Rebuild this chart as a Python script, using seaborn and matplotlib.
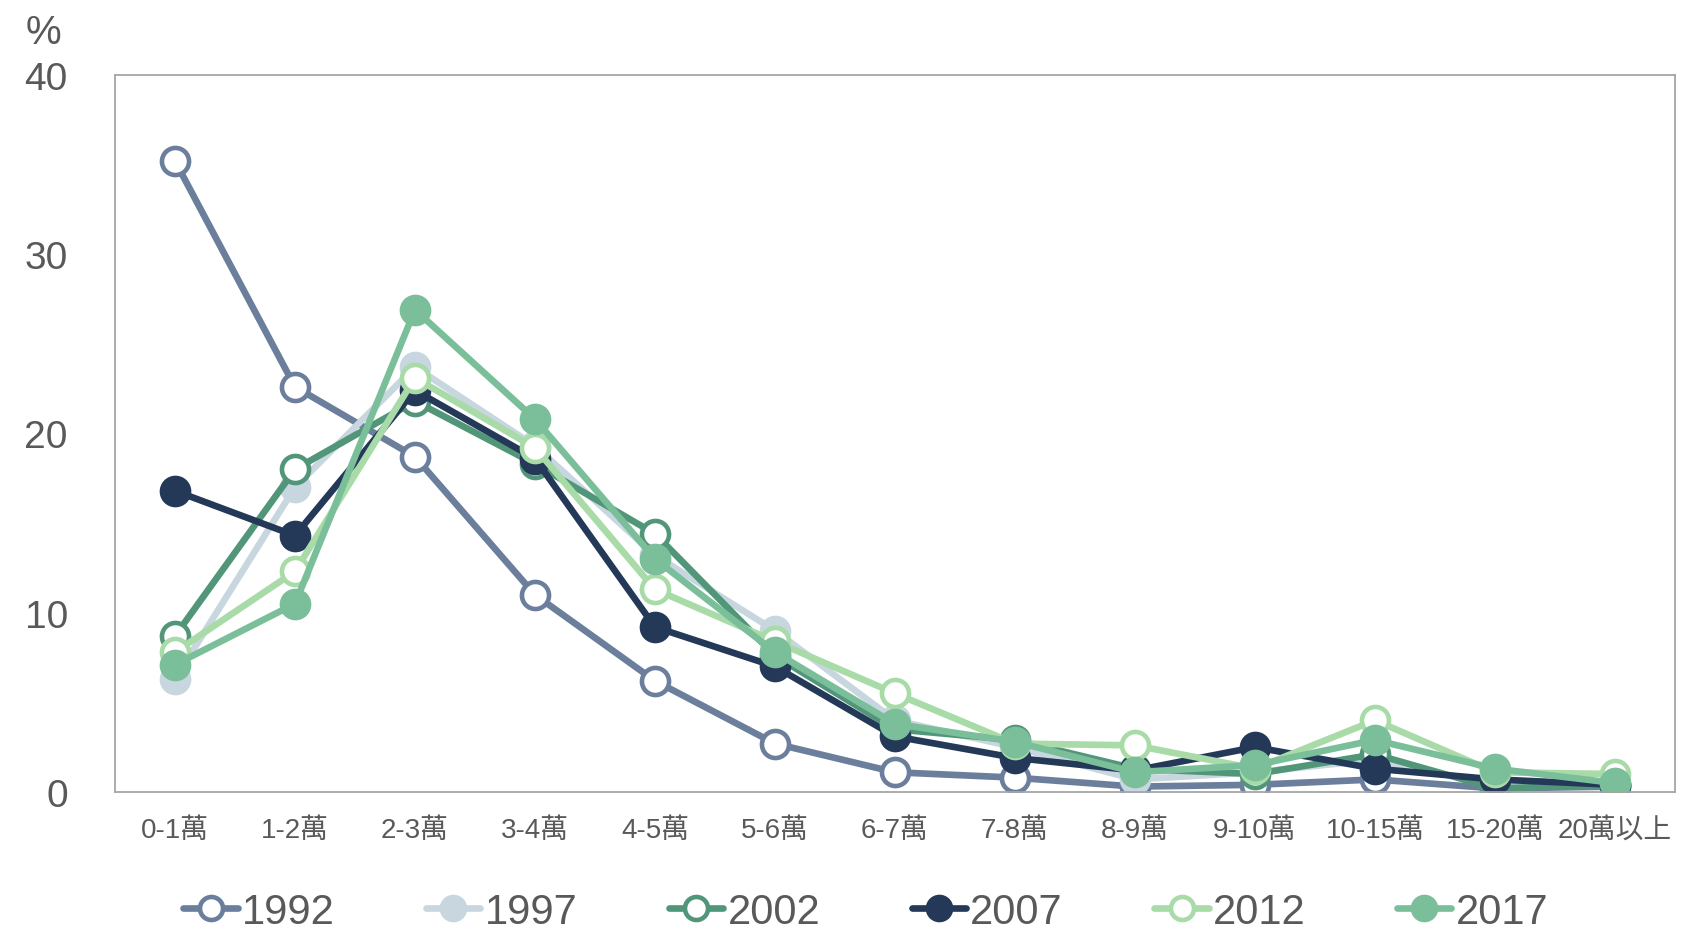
import matplotlib
matplotlib.use("Agg")
import matplotlib.pyplot as plt
import seaborn as sns
import numpy as np
import pandas as pd

categories = ["0-1萬", "1-2萬", "2-3萬", "3-4萬", "4-5萬", "5-6萬", "6-7萬",
              "7-8萬", "8-9萬", "9-10萬", "10-15萬", "15-20萬", "20萬以上"]
years = ["1992", "1997", "2002", "2007", "2012", "2017"]

v1992 = [35.2, 22.6, 18.7, 11.0, 6.2, 2.7, 1.1, 0.8, 0.3, 0.4, 0.7, 0.2, 0.3]
v1997 = [6.3, 17.0, 23.7, 19.3, 13.2, 9.0, 4.0, 2.5, 0.7, 1.1, 1.8, 0.4, 0.4]
v2002 = [8.7, 18.0, 21.8, 18.3, 14.4, 7.6, 3.5, 2.9, 1.3, 1.0, 2.1, 0.2, 0.4]
v2007 = [16.8, 14.3, 22.4, 18.6, 9.2, 7.0, 3.1, 1.9, 1.2, 2.5, 1.3, 0.7, 0.4]
v2012 = [7.8, 12.3, 23.1, 19.2, 11.3, 8.4, 5.5, 2.7, 2.6, 1.3, 4.0, 1.1, 1.0]
v2017 = [7.1, 10.5, 26.9, 20.8, 13.0, 7.8, 3.8, 2.8, 1.1, 1.5, 2.9, 1.3, 0.5]

series_values = [v1992, v1997, v2002, v2007, v2012, v2017]
colors = ["#6b7f9c", "#c8d6df", "#52967a", "#243858", "#a8dba8", "#7bbf9a"]
open_marker = [True, False, True, False, True, False]

yticks = [0, 10, 20, 30, 40]

sns.set_theme(style="white")
plt.rcParams["font.family"] = ["Liberation Sans", "Noto Sans CJK TC", "DejaVu Sans"]

text_color = "#595959"

fig = plt.figure(figsize=(16.91, 9.37), dpi=100)
ax = fig.add_axes([0.068, 0.1537, 0.9225, 0.7653])

x = np.arange(len(categories))
for yr, vals, col, op in zip(years, series_values, colors, open_marker):
    df = pd.DataFrame({"x": x, "v": vals})
    sns.lineplot(data=df, x="x", y="v", ax=ax, color=col, linewidth=4.8,
                 marker="o", markersize=19.5,
                 markerfacecolor="white" if op else col,
                 markeredgecolor=col, markeredgewidth=3.3,
                 label=yr, legend=False)

ax.set_xlim(-0.5, len(categories) - 0.5)
ax.set_ylim(0, 40)
ax.set_xticks(x)
ax.set_xticklabels(categories)
ax.set_yticks(yticks)
ax.set_yticklabels([str(t) for t in yticks])
ax.set_xlabel("")
ax.set_ylabel("")
ax.tick_params(axis="y", length=0, pad=34, labelsize=28, labelcolor=text_color)
ax.tick_params(axis="x", length=0, pad=18, labelsize=20, labelcolor=text_color)
for s in ax.spines.values():
    s.set_visible(True)
    s.set_color("#a6a6a6")
    s.set_linewidth(1.3)

fig.text(43 / 1691, 1 - 33 / 937, "%", ha="center", va="center",
         fontsize=29, color=text_color)

handles, labels = ax.get_legend_handles_labels()
leg = fig.legend(handles, labels, loc="center", bbox_to_anchor=(0.512, 0.026),
                 ncol=6, frameon=False, fontsize=30, handlelength=1.3,
                 handletextpad=0.1, columnspacing=2.2, labelcolor=text_color,
                 borderaxespad=0, borderpad=0, markerscale=0.85)

fig.savefig("out.png", dpi=100)
